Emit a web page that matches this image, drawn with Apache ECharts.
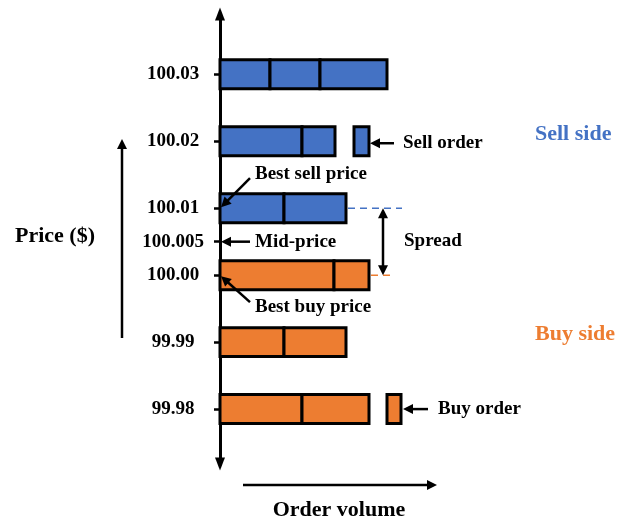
<!DOCTYPE html>
<html>
<head>
<meta charset="utf-8">
<script src="https://cdn.jsdelivr.net/npm/echarts@6/dist/echarts.min.js"></script>
<style>
  html, body { margin: 0; padding: 0; background: #fff; }
  #main { width: 623px; height: 521px; }
</style>
</head>
<body>
<div id="main"></div>
<script>
// price levels and the resting order sizes at each level (volume units)
const sellPrices = [100.03, 100.02, 100.01];
const sellOrders = [[10, 10, 13.4], [16.4, 6.6], [12.8, 12.4]];
const buyPrices = [100.00, 99.99, 99.98];
const buyOrders = [[22.8, 7], [12.8, 12.4], [16.4, 13.4]];
// incoming orders: price, gap after the queue, size
const newSell = { price: 100.02, gap: 3.8, size: 3 };
const newBuy = { price: 99.98, gap: 3.6, size: 2.8 };
const midPrice = 100.005;
const tickPrices = [100.03, 100.02, 100.01, 100.005, 100.00, 99.99, 99.98];

const BLUE = '#4472C4';
const ORANGE = '#ED7D31';
const FONT = '"Liberation Serif", "DejaVu Serif", serif';

function toSegments(prices, orders, extra) {
  const out = [];
  prices.forEach((p, i) => {
    let acc = 0;
    orders[i].forEach(v => {
      out.push([acc, acc + v, p]);
      acc += v;
    });
    if (extra && extra.price === p) {
      out.push([acc + extra.gap, acc + extra.gap + extra.size, p]);
    }
  });
  return out;
}
const total = arr => arr.reduce((a, b) => a + b, 0);

const barSpan = 0.00433;
function renderBar(params, api) {
  const a = api.coord([api.value(0), api.value(2)]);
  const b = api.coord([api.value(1), api.value(2)]);
  const h = api.size([0, barSpan])[1];
  return {
    type: 'rect',
    shape: { x: a[0], y: a[1] - h / 2, width: b[0] - a[0], height: h },
    style: { fill: api.visual('color'), stroke: '#000', lineWidth: 3 }
  };
}

const chart = echarts.init(document.getElementById('main'));
chart.setOption({
  animation: false,
  grid: { left: 220, right: 9, top: 14, bottom: 57 },
  xAxis: { type: 'value', min: 0, max: 78.8, show: false },
  yAxis: {
    type: 'value',
    min: 99.9718,
    max: 100.0390,
    splitLine: { show: false },
    axisLine: {
      show: true,
      symbol: ['triangle', 'triangle'],
      symbolSize: [10, 13],
      lineStyle: { color: '#000', width: 3 }
    },
    axisTick: {
      show: true, length: 6, customValues: tickPrices,
      lineStyle: { color: '#000', width: 2.5 }
    },
    axisLabel: {
      customValues: tickPrices,
      margin: 47,
      align: 'center',
      color: '#000',
      fontFamily: FONT,
      fontWeight: 'bold',
      fontSize: 19,
      formatter: v => (Math.abs(v - midPrice) < 1e-9 ? '100.005' : v.toFixed(2))
    }
  },
  series: [
    {
      type: 'custom', name: 'Sell', renderItem: renderBar,
      itemStyle: { color: BLUE },
      encode: { x: [0, 1], y: 2 },
      data: toSegments(sellPrices, sellOrders, newSell)
    },
    {
      type: 'custom', name: 'Buy', renderItem: renderBar,
      itemStyle: { color: ORANGE },
      encode: { x: [0, 1], y: 2 },
      data: toSegments(buyPrices, buyOrders, newBuy)
    }
  ]
});

// annotations
const px = (v, p) => chart.convertToPixel({ gridIndex: 0 }, [v, p]);

function arrow(x1, y1, x2, y2, both) {
  const ang = Math.atan2(y2 - y1, x2 - x1);
  const L = 10, W = 5;
  const head = (tx, ty, a) => ({
    type: 'polygon', z: 100,
    shape: { points: [
      [tx, ty],
      [tx - L * Math.cos(a) + W * Math.sin(a), ty - L * Math.sin(a) - W * Math.cos(a)],
      [tx - L * Math.cos(a) - W * Math.sin(a), ty - L * Math.sin(a) + W * Math.cos(a)]
    ] },
    style: { fill: '#000' }
  });
  const sx = both ? x1 + (L - 2) * Math.cos(ang) : x1;
  const sy = both ? y1 + (L - 2) * Math.sin(ang) : y1;
  const els = [
    { type: 'line', z: 100,
      shape: { x1: sx, y1: sy, x2: x2 - (L - 2) * Math.cos(ang), y2: y2 - (L - 2) * Math.sin(ang) },
      style: { stroke: '#000', lineWidth: 2.5 } },
    head(x2, y2, ang)
  ];
  if (both) els.push(head(x1, y1, ang + Math.PI));
  return els;
}
function label(text, x, y, opts) {
  return {
    type: 'text', x: x, y: y, z: 100,
    style: Object.assign({
      text: text, fill: '#000', font: 'bold 19px ' + FONT,
      textAlign: 'left', textVerticalAlign: 'middle'
    }, opts || {})
  };
}

const bestSell = sellPrices[sellPrices.length - 1];
const bestBuy = buyPrices[0];
const sellEnd = px(total(sellOrders[sellOrders.length - 1]), bestSell);
const buyEnd = px(total(buyOrders[0]), bestBuy);
const pSell = px(0, bestSell);
const pBuy = px(0, bestBuy);
const pMid = px(0, midPrice);
const spreadX = px(32.6, bestSell)[0];

const s2 = px(total(sellOrders[1]) + newSell.gap + newSell.size, newSell.price);
const b3 = px(total(buyOrders[2]) + newBuy.gap + newBuy.size, newBuy.price);

let els = [];
// dashed guides
els.push({ type: 'line', z: 100, shape: { x1: sellEnd[0] + 2, y1: sellEnd[1], x2: 402, y2: sellEnd[1] },
  style: { stroke: BLUE, lineWidth: 1.5, lineDash: [7, 5] } });
els.push({ type: 'line', z: 100, shape: { x1: buyEnd[0] + 2, y1: buyEnd[1], x2: 394, y2: buyEnd[1] },
  style: { stroke: ORANGE, lineWidth: 1.5, lineDash: [7, 5] } });
// spread
els = els.concat(arrow(spreadX, sellEnd[1], spreadX, buyEnd[1], true));
els.push(label('Spread', 404, pMid[1] - 1));
// pointers
els = els.concat(arrow(250, pSell[1] - 30, pSell[0] + 1, pSell[1] - 1));
els.push(label('Best sell price', 255, pSell[1] - 34));
els = els.concat(arrow(250, pMid[1], pMid[0] + 1, pMid[1]));
els.push(label('Mid-price', 255, pMid[1]));
els = els.concat(arrow(250, pBuy[1] + 27, pBuy[0] + 1, pBuy[1] + 1));
els.push(label('Best buy price', 255, pBuy[1] + 32));
els = els.concat(arrow(s2[0] + 25, s2[1] + 2, s2[0] + 1, s2[1] + 2));
els.push(label('Sell order', s2[0] + 34, s2[1] + 2));
els = els.concat(arrow(b3[0] + 27, b3[1], b3[0] + 2, b3[1]));
els.push(label('Buy order', b3[0] + 37, b3[1]));
// side labels
els.push(label('Sell side', 535, 134, { fill: BLUE, font: 'bold 22px ' + FONT }));
els.push(label('Buy side', 535, 334, { fill: ORANGE, font: 'bold 22px ' + FONT }));
// axis captions
els = els.concat(arrow(122, 338, 122, 139));
els.push(label('Price ($)', 15, 236, { font: 'bold 22px ' + FONT }));
els = els.concat(arrow(243, 485, 437, 485));
els.push(label('Order volume', 339, 510, { font: 'bold 22px ' + FONT, textAlign: 'center' }));

chart.setOption({ graphic: { elements: els } });
</script>
</body>
</html>
